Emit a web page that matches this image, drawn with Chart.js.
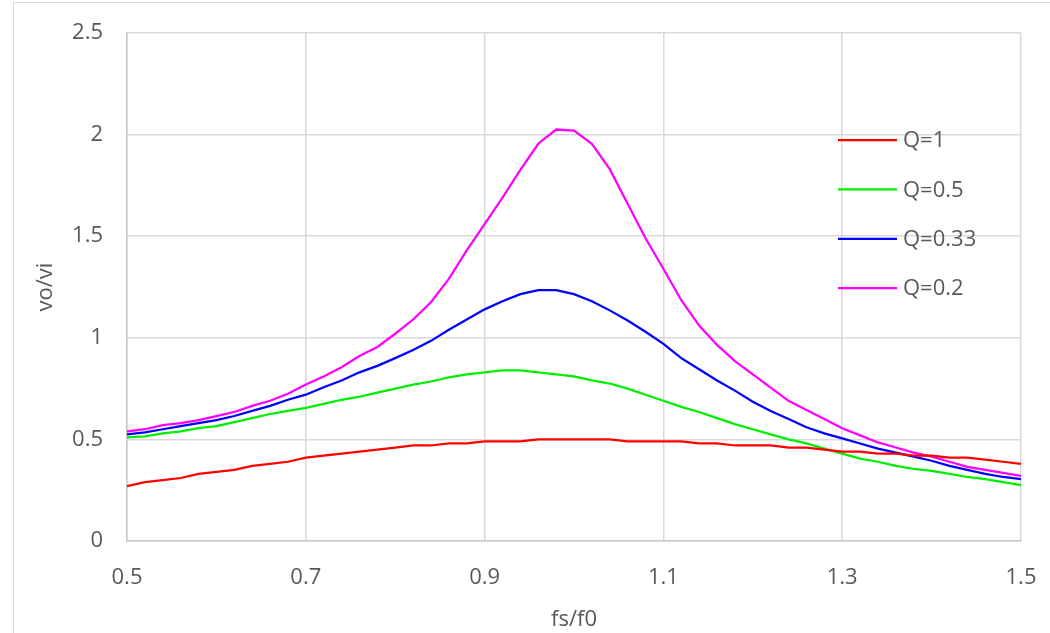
<!DOCTYPE html>
<html>
<head>
<meta charset="utf-8">
<script src="https://cdn.jsdelivr.net/npm/chart.js@4.4.1/dist/chart.umd.min.js"></script>
<style>
  html, body { margin: 0; padding: 0; background: #fff; }
  #wrap { position: relative; width: 1050px; height: 633px; }
</style>
</head>
<body>
<div id="wrap"><canvas id="resonance"></canvas></div>
<script>
// fs/f0 sample points
var fsf0 = [0.50, 0.52, 0.54, 0.56, 0.58, 0.60, 0.62, 0.64, 0.66, 0.68,
            0.70, 0.72, 0.74, 0.76, 0.78, 0.80, 0.82, 0.84, 0.86, 0.88,
            0.90, 0.92, 0.94, 0.96, 0.98, 1.00, 1.02, 1.04, 1.06, 1.08,
            1.10, 1.12, 1.14, 1.16, 1.18, 1.20, 1.22, 1.24, 1.26, 1.28,
            1.30, 1.32, 1.34, 1.36, 1.38, 1.40, 1.42, 1.44, 1.46, 1.48, 1.50];

// vo/vi for each Q
var q1 = [0.27, 0.29, 0.30, 0.31, 0.33, 0.34, 0.35, 0.37, 0.38, 0.39,
          0.41, 0.42, 0.43, 0.44, 0.45, 0.46, 0.47, 0.47, 0.48, 0.48,
          0.49, 0.49, 0.49, 0.50, 0.50, 0.50, 0.50, 0.50, 0.49, 0.49,
          0.49, 0.49, 0.48, 0.48, 0.47, 0.47, 0.47, 0.46, 0.46, 0.45,
          0.44, 0.44, 0.43, 0.43, 0.42, 0.42, 0.41, 0.41, 0.40, 0.39, 0.38];

var q05 = [0.51, 0.515, 0.53, 0.54, 0.555, 0.565, 0.585, 0.605, 0.625, 0.64,
           0.655, 0.675, 0.695, 0.71, 0.73, 0.75, 0.77, 0.785, 0.805, 0.82,
           0.83, 0.84, 0.84, 0.83, 0.82, 0.81, 0.79, 0.775, 0.75, 0.72,
           0.69, 0.66, 0.635, 0.605, 0.575, 0.55, 0.525, 0.50, 0.48, 0.455,
           0.43, 0.405, 0.39, 0.37, 0.355, 0.345, 0.33, 0.315, 0.305, 0.29, 0.275];

var q033 = [0.525, 0.535, 0.55, 0.565, 0.58, 0.595, 0.615, 0.64, 0.665, 0.695,
            0.72, 0.757, 0.79, 0.83, 0.862, 0.90, 0.94, 0.985, 1.04, 1.09,
            1.14, 1.18, 1.215, 1.235, 1.235, 1.215, 1.18, 1.135, 1.085, 1.03,
            0.97, 0.90, 0.845, 0.79, 0.74, 0.685, 0.64, 0.60, 0.56, 0.53,
            0.505, 0.48, 0.455, 0.435, 0.415, 0.395, 0.37, 0.35, 0.33, 0.315, 0.305];

var q02 = [0.54, 0.55, 0.57, 0.58, 0.595, 0.615, 0.635, 0.665, 0.69, 0.725,
           0.77, 0.81, 0.855, 0.91, 0.955, 1.02, 1.09, 1.175, 1.29, 1.43,
           1.56, 1.69, 1.826, 1.955, 2.025, 2.02, 1.955, 1.83, 1.66, 1.49,
           1.34, 1.185, 1.06, 0.965, 0.885, 0.82, 0.755, 0.69, 0.645, 0.60,
           0.555, 0.52, 0.485, 0.46, 0.435, 0.415, 0.39, 0.365, 0.35, 0.335, 0.32];

var seriesNames = ['Q=1', 'Q=0.5', 'Q=0.33', 'Q=0.2'];
var seriesColors = ['#ff0000', '#00ee00', '#0000ff', '#ff00ff'];

var xTicks = [0.5, 0.7, 0.9, 1.1, 1.3, 1.5];
var yTicks = [0, 0.5, 1, 1.5, 2, 2.5];

var textColor = '#595959';
var gridColor = '#d9d9d9';
var fontFamily = "'Open Sans', sans-serif";

function toPoints(values) {
    return fsf0.map((x, i) => ({ x: x, y: values[i] }));
}

// legend drawn inside the plot, Excel style
var insideLegend = {
    id: 'insideLegend',
    afterDatasetsDraw(chart) {
        let ctx = chart.ctx;
        let area = chart.chartArea;
        let x0 = area.left + 711;
        let y0 = area.top + 107;
        let gap = 49.4;
        ctx.save();
        ctx.font = '22px ' + fontFamily;
        ctx.textBaseline = 'middle';
        ctx.textAlign = 'left';
        chart.data.datasets.forEach((ds, i) => {
            let y = y0 + i * gap;
            ctx.strokeStyle = ds.borderColor;
            ctx.lineWidth = 2.25;
            ctx.beginPath();
            ctx.moveTo(x0, y);
            ctx.lineTo(x0 + 59, y);
            ctx.stroke();
            ctx.fillStyle = textColor;
            ctx.fillText(ds.label, x0 + 65, y + 1);
        });
        ctx.restore();
    }
};

// thin frame around the whole chart
var outerFrame = {
    id: 'outerFrame',
    beforeDraw(chart) {
        let ctx = chart.ctx;
        ctx.save();
        ctx.fillStyle = '#ffffff';
        ctx.fillRect(0, 0, chart.width, chart.height);
        ctx.strokeStyle = gridColor;
        ctx.lineWidth = 1;
        ctx.strokeRect(13.5, 2.5, chart.width, chart.height + 10);
        ctx.restore();
    }
};

var ctx = document.getElementById('resonance').getContext('2d');

new Chart(ctx, {
    type: 'line',
    data: {
        datasets: [q1, q05, q033, q02].map((vals, i) => ({
            label: seriesNames[i],
            data: toPoints(vals),
            borderColor: seriesColors[i],
            backgroundColor: seriesColors[i],
            borderWidth: 2.25,
            pointRadius: 0,
            tension: 0,
            fill: false
        }))
    },
    options: {
        responsive: true,
        maintainAspectRatio: false,
        animation: false,
        devicePixelRatio: 1,
        layout: { padding: { left: 0, top: 33, right: 29, bottom: 0 } },
        plugins: {
            legend: { display: false },
            tooltip: { enabled: false }
        },
        scales: {
            x: {
                type: 'linear',
                min: 0.5,
                max: 1.5,
                afterBuildTicks: scale => { scale.ticks = xTicks.map(v => ({ value: v })); },
                afterFit: scale => {
                    scale.height = 92;
                    scale.paddingLeft = 0;
                    scale.paddingRight = 0;
                },
                grid: { color: gridColor, lineWidth: 1.5, drawTicks: false },
                border: { color: '#c8c8c8', width: 1.5 },
                ticks: {
                    color: textColor,
                    padding: 24,
                    maxRotation: 0,
                    font: { family: fontFamily, size: 22 },
                    callback: v => String(v)
                },
                title: {
                    display: true,
                    text: 'fs/f0',
                    color: textColor,
                    padding: { top: 0, bottom: 0 },
                    font: { family: fontFamily, size: 22 }
                }
            },
            y: {
                min: 0,
                max: 2.5,
                afterBuildTicks: scale => { scale.ticks = yTicks.map(v => ({ value: v })); },
                afterFit: scale => {
                    scale.width = 127;
                    scale.paddingTop = 0;
                    scale.paddingBottom = 0;
                },
                grid: { color: gridColor, lineWidth: 1.5, drawTicks: false },
                border: { color: '#c8c8c8', width: 1.5 },
                ticks: {
                    color: textColor,
                    padding: 24,
                    font: { family: fontFamily, size: 22 },
                    callback: v => String(v)
                },
                title: {
                    display: true,
                    text: 'vo/vi',
                    color: textColor,
                    padding: { top: 33, bottom: 0 },
                    font: { family: fontFamily, size: 22 }
                }
            }
        }
    },
    plugins: [outerFrame, insideLegend]
});
</script>
</body>
</html>
